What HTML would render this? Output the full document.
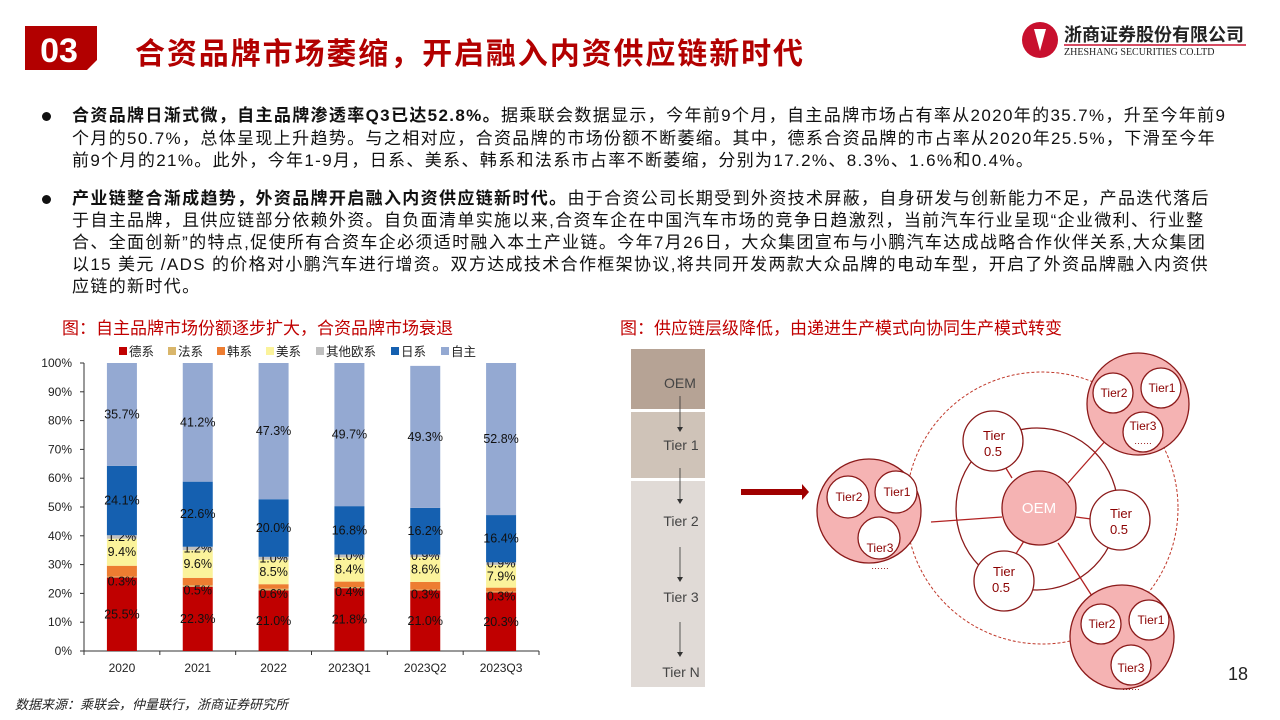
<!DOCTYPE html>
<html><head><meta charset="utf-8">
<style>
body{margin:0;width:1280px;height:720px;position:relative;background:#fff;font-family:"Liberation Sans","Noto Sans CJK SC",sans-serif;overflow:hidden}
.abs{position:absolute}
.ln{position:absolute;left:72px;font-size:17px;letter-spacing:1.35px;color:#111;white-space:nowrap;line-height:22px}
.dot{position:absolute;left:42px;width:9px;height:9px;border-radius:50%;background:#111}
</style></head><body>
<svg class="abs" style="left:0;top:0" width="1280" height="720">
<polygon points="25,26 97,26 97,60 87,70 25,70" fill="#b20000"/>
<text x="59" y="62" fill="#fff" font-size="34" font-weight="bold" text-anchor="middle" font-family="Liberation Sans">03</text>
<circle cx="1040" cy="40" r="18" fill="#c8102e"/>
<path d="M1034 29 L1046 29 L1040 51 Z" fill="#fff"/>
<line x1="1064" y1="45" x2="1246" y2="45" stroke="#c8102e" stroke-width="1.5"/>
</svg>
<div class="abs" style="left:135px;top:29px;font-size:30px;letter-spacing:1.9px;font-weight:bold;color:#b20000">合资品牌市场萎缩，开启融入内资供应链新时代</div>
<div class="abs" style="left:1064px;top:21px;font-size:18px;font-weight:bold;color:#222">浙商证券股份有限公司</div>
<div class="abs" style="left:1064px;top:47px;font-size:10px;color:#222;font-family:'Liberation Serif',serif">ZHESHANG SECURITIES CO.LTD</div>

<div>
<div class="dot" style="top:112px"></div>
<div class="ln" style="top:105px"><b>合资品牌日渐式微，自主品牌渗透率Q3已达52.8%。</b>据乘联会数据显示，今年前9个月，自主品牌市场占有率从2020年的35.7%，升至今年前9</div>
<div class="ln" style="top:128px">个月的50.7%，总体呈现上升趋势。与之相对应，合资品牌的市场份额不断萎缩。其中，德系合资品牌的市占率从2020年25.5%，下滑至今年</div>
<div class="ln" style="top:150px">前9个月的21%。此外，今年1-9月，日系、美系、韩系和法系市占率不断萎缩，分别为17.2%、8.3%、1.6%和0.4%。</div>
</div>
<div>
<div class="dot" style="top:195px"></div>
<div class="ln" style="top:188px"><b>产业链整合渐成趋势，外资品牌开启融入内资供应链新时代。</b>由于合资公司长期受到外资技术屏蔽，自身研发与创新能力不足，产品迭代落后</div>
<div class="ln" style="top:210px">于自主品牌，且供应链部分依赖外资。自负面清单实施以来,合资车企在中国汽车市场的竞争日趋激烈，当前汽车行业呈现“企业微利、行业整</div>
<div class="ln" style="top:232px">合、全面创新”的特点,促使所有合资车企必须适时融入本土产业链。今年7月26日，大众集团宣布与小鹏汽车达成战略合作伙伴关系,大众集团</div>
<div class="ln" style="top:254px">以15 美元 /ADS 的价格对小鹏汽车进行增资。双方达成技术合作框架协议,将共同开发两款大众品牌的电动车型，开启了外资品牌融入内资供</div>
<div class="ln" style="top:276px">应链的新时代。</div>
</div>

<div class="abs" style="left:62px;top:314px;font-size:17px;color:#c00000">图：自主品牌市场份额逐步扩大，合资品牌市场衰退</div>
<div class="abs" style="left:620px;top:314px;font-size:17px;color:#c00000">图：供应链层级降低，由递进生产模式向协同生产模式转变</div>

<svg id="chart" class="abs" style="left:0;top:0" width="600" height="690"></svg>

<svg class="abs" style="left:0;top:0" width="1280" height="720">
<g font-family="Liberation Sans" font-size="14" fill="#444" text-anchor="middle">
<rect x="631" y="349" width="74" height="60" fill="#b6a395"/>
<rect x="631" y="412" width="74" height="66" fill="#cfc3b8"/>
<rect x="631" y="481" width="74" height="206" fill="#e0dad6"/>
<text x="680" y="388">OEM</text><text x="681" y="450">Tier 1</text><text x="681" y="526">Tier 2</text><text x="681" y="602">Tier 3</text><text x="681" y="677">Tier N</text>
<g stroke="#333" stroke-width="0.8">
<line x1="680" y1="396" x2="680" y2="428"/><line x1="680" y1="468" x2="680" y2="500"/><line x1="680" y1="547" x2="680" y2="578"/><line x1="680" y1="622" x2="680" y2="653"/></g>
<g fill="#333"><path d="M677 427 L683 427 L680 432Z"/><path d="M677 499 L683 499 L680 504Z"/><path d="M677 577 L683 577 L680 582Z"/><path d="M677 652 L683 652 L680 657Z"/></g>
</g>
<g><rect x="741" y="489" width="62" height="6" fill="#a00000"/><path d="M802 484 L809 492 L802 500Z" fill="#a00000"/></g>
<g stroke="#a52a2a" fill="none">
<circle cx="1042" cy="508" r="136" stroke-dasharray="3,2" stroke="#c0392b"/>
<circle cx="1037" cy="509" r="81" stroke="#8b1a1a" stroke-width="1.3"/>
<g stroke="#b22222" stroke-width="1.3">
<line x1="931" y1="522" x2="1002" y2="517"/><line x1="1068" y1="483" x2="1107" y2="439"/><line x1="1058" y1="543" x2="1092" y2="596"/>
<line x1="1004" y1="465" x2="1012" y2="478"/><line x1="1091" y1="519" x2="1076" y2="517"/><line x1="1014" y1="557" x2="1024" y2="541"/></g>
</g>
<g font-family="Liberation Sans" font-size="12" fill="#8b0000" text-anchor="middle" stroke="#8b1a1a" stroke-width="1.3">
<circle cx="1039" cy="508" r="37" fill="#f5b3b3"/>
<circle cx="993" cy="441" r="30" fill="#fff"/><circle cx="1120" cy="520" r="30" fill="#fff"/><circle cx="1004" cy="581" r="30" fill="#fff"/>
<circle cx="869" cy="511" r="52" fill="#f5b3b3"/>
<circle cx="848" cy="497" r="21" fill="#fff"/><circle cx="896" cy="492" r="21" fill="#fff"/><circle cx="879" cy="538" r="21" fill="#fff"/>
<circle cx="1138" cy="404" r="51" fill="#f5b3b3"/>
<circle cx="1113" cy="393" r="20" fill="#fff"/><circle cx="1161" cy="388" r="20" fill="#fff"/><circle cx="1143" cy="432" r="20" fill="#fff"/>
<circle cx="1122" cy="637" r="52" fill="#f5b3b3"/>
<circle cx="1101" cy="624" r="20" fill="#fff"/><circle cx="1149" cy="620" r="20" fill="#fff"/><circle cx="1131" cy="665" r="20" fill="#fff"/>
<g stroke="none">
<text x="1039" y="513" font-size="15" fill="#fff">OEM</text>
<text x="994" y="440" font-size="13">Tier</text><text x="993" y="456" font-size="13">0.5</text>
<text x="1121" y="518" font-size="13">Tier</text><text x="1119" y="534" font-size="13">0.5</text>
<text x="1004" y="576" font-size="13">Tier</text><text x="1001" y="592" font-size="13">0.5</text>
<text x="849" y="501">Tier2</text><text x="897" y="496">Tier1</text><text x="880" y="552">Tier3</text><text x="880" y="569" font-size="9">……</text>
<text x="1114" y="397">Tier2</text><text x="1162" y="392">Tier1</text><text x="1143" y="430">Tier3</text><text x="1143" y="444" font-size="9">……</text>
<text x="1102" y="628">Tier2</text><text x="1151" y="624">Tier1</text><text x="1131" y="672">Tier3</text><text x="1131" y="690" font-size="9">……</text>
</g></g>
</svg>
<div class="abs" style="left:1228px;top:664px;font-size:18px;color:#222">18</div>
<div class="abs" style="left:15px;top:694px;font-size:13px;color:#222;font-style:italic">数据来源：乘联会，仲量联行，浙商证券研究所</div>

<script>
const categories=["2020","2021","2022","2023Q1","2023Q2","2023Q3"];
const seriesNames=["德系","法系","韩系","美系","其他欧系","日系","自主"];
const german=[25.5,22.3,21.0,21.8,21.0,20.3];
const french=[0.3,0.5,0.6,0.4,0.3,0.3];
const korean=[3.8,2.6,1.6,1.9,2.7,1.4];
const american=[9.4,9.6,8.5,8.4,8.6,7.9];
const otherEU=[1.2,1.2,1.0,1.0,0.9,0.9];
const japanese=[24.1,22.6,20.0,16.8,16.2,16.4];
const domestic=[35.7,41.2,47.3,49.7,49.3,52.8];
const yTicks=[0,10,20,30,40,50,60,70,80,90,100];
const showLabel=[true,true,false,true,true,true,true];
const colors=["#c00000","#d9b66b","#ed7d31","#fbf39b","#bfbfbf","#1560b0","#94a9d2"];
const series=[german,french,korean,american,otherEU,japanese,domestic];
const svg=document.getElementById('chart');
const NS="http://www.w3.org/2000/svg";
const x0=84,x1=539,yTop=363,yBot=651;
const y=v=>yBot-(v/100)*(yBot-yTop);
const bw=(x1-x0)/categories.length;
const xc=i=>x0+bw*(i+0.5);
function mk(t,a){const e=document.createElementNS(NS,t);for(const k in a)e.setAttribute(k,a[k]);svg.appendChild(e);return e;}
let ax=mk('line',{x1:x0,y1:yTop,x2:x0,y2:yBot,stroke:'#333'});


let bx=mk('line',{x1:x0,y1:yBot,x2:x1,y2:yBot,stroke:'#333'});


yTicks.forEach(t=>{
  mk('line',{x1:x0-4,y1:y(t),x2:x0,y2:y(t),stroke:'#333'});
  const tx=mk('text',{x:x0-12,y:y(t)+4,'font-size':12,'text-anchor':'end',fill:'#222','font-family':'Liberation Sans'});
  tx.textContent=t+'%';
  
  
});
for(let i=0;i<=categories.length;i++)mk('line',{x1:x0+bw*i,y1:yBot,x2:x0+bw*i,y2:yBot+4,stroke:'#333'});
categories.forEach((c,i)=>{
  const tx=mk('text',{x:xc(i),y:yBot+21,'font-size':12,'text-anchor':'middle',fill:'#222','font-family':'Liberation Sans'});
  tx.textContent=c;
  
  
  let cum=0;
  series.forEach((s,k)=>{
    const v=s[i];
    const r=mk('rect',{x:xc(i)-15,y:y(cum+v),width:30,height:y(cum)-y(cum+v),fill:colors[k]});
    
    
    if(showLabel[k]){
      const ly=(k===1)?y(cum+v)+9:(y(cum)+y(cum+v))/2+4;
      const lt=mk('text',{x:xc(i),y:ly,'font-size':12.5,'text-anchor':'middle',fill:'#111','font-family':'Liberation Sans'});
      lt.textContent=v.toFixed(1)+'%';
      
      
    }
    cum+=v;
  });
});
const lx=[119,168,217,266,316,391,441];
seriesNames.forEach((n,k)=>{
  mk('rect',{x:lx[k],y:347,width:8,height:8,fill:colors[k]});
  const t=mk('text',{x:lx[k]+10,y:356,'font-size':12.5,fill:'#222','font-family':'Liberation Sans, Noto Sans CJK SC, sans-serif'});
  t.textContent=n;
  
  
});
</script>
</body></html>
